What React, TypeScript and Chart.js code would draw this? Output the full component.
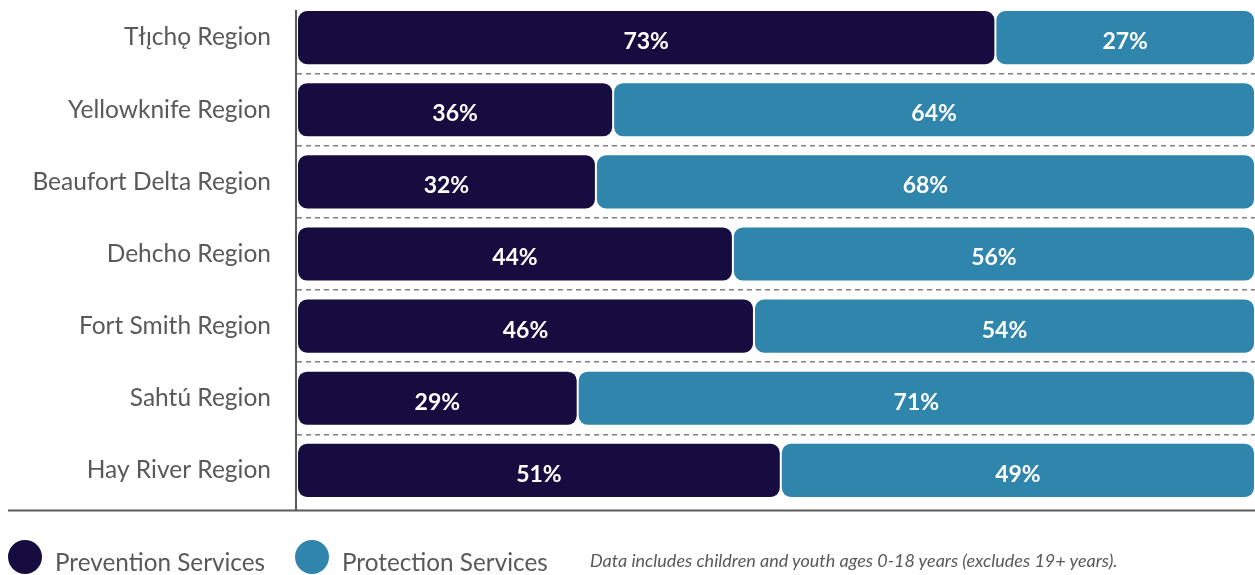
import React, { useEffect, useRef } from "react";
import { Chart, registerables } from "chart.js";

Chart.register(...registerables);

const regions = [
  "Tłı̨chǫ Region",
  "Yellowknife Region",
  "Beaufort Delta Region",
  "Dehcho Region",
  "Fort Smith Region",
  "Sahtú Region",
  "Hay River Region",
];
// bar lengths as drawn in the reference (percent of row)
const preventionShare = [72.9, 33.0, 31.2, 45.5, 47.7, 29.3, 50.5];
const protectionShare = [27.1, 67.0, 68.8, 54.5, 52.3, 70.7, 49.5];
// labels printed on the bars
const preventionLabels = ["73%", "36%", "32%", "44%", "46%", "29%", "51%"];
const protectionLabels = ["27%", "64%", "68%", "56%", "54%", "71%", "49%"];
const seriesNames = ["Prevention Services", "Protection Services"];
const seriesColors = ["#170C40", "#3085AC"];
const footnote = "Data includes children and youth ages 0-18 years (excludes 19+ years).";

const FONT = "Lato, 'Noto Sans', sans-serif";
const TEXT_GREY = "#595959";
const RADIUS = { topLeft: 10, topRight: 10, bottomLeft: 10, bottomRight: 10 };

const valueLabelPlugin = {
  id: "valueLabels",
  afterDatasetsDraw(chart: any) {
    const ctx = chart.ctx;
    ctx.save();
    ctx.fillStyle = "#ffffff";
    ctx.font = `bold 23px ${FONT}`;
    ctx.textAlign = "center";
    ctx.textBaseline = "middle";
    chart.data.datasets.forEach((ds: any, di: number) => {
      const meta = chart.getDatasetMeta(di);
      meta.data.forEach((bar: any, i: number) => {
        const text = ds.valueLabels[i];
        const cx = (bar.x + bar.base) / 2;
        ctx.fillText(text, cx, bar.y + 4);
      });
    });
    ctx.restore();
  },
};

const axisLinePlugin = {
  id: "axisLines",
  afterDraw(chart: any) {
    const { ctx, chartArea } = chart;
    ctx.save();
    ctx.strokeStyle = "#5a5a5a";
    ctx.lineWidth = 2;
    ctx.beginPath();
    ctx.moveTo(chartArea.left - 1, chartArea.top + 8.5);
    ctx.lineTo(chartArea.left - 1, chartArea.bottom + 4);
    ctx.moveTo(8, chartArea.bottom + 4);
    ctx.lineTo(chartArea.right, chartArea.bottom + 4);
    ctx.stroke();
    ctx.restore();
  },
};

export default function App() {
  const canvasRef = useRef<HTMLCanvasElement | null>(null);

  useEffect(() => {
    if (!canvasRef.current) return;
    const chart = new Chart(canvasRef.current, {
      type: "bar",
      data: {
        labels: regions,
        datasets: [
          {
            label: seriesNames[0],
            data: preventionShare,
            backgroundColor: seriesColors[0],
            borderColor: "#ffffff",
            borderWidth: 1,
            borderRadius: RADIUS,
            borderSkipped: false,
            barPercentage: 0.764,
            categoryPercentage: 1,
            valueLabels: preventionLabels,
          } as any,
          {
            label: seriesNames[1],
            data: protectionShare,
            backgroundColor: seriesColors[1],
            borderColor: "#ffffff",
            borderWidth: 1,
            borderRadius: RADIUS,
            borderSkipped: false,
            barPercentage: 0.764,
            categoryPercentage: 1,
            valueLabels: protectionLabels,
          } as any,
        ],
      },
      options: {
        indexAxis: "y",
        responsive: false,
        animation: false,
        layout: { padding: { top: 1.5, bottom: 68.5, left: 0, right: 0 } },
        plugins: {
          legend: { display: false },
          tooltip: { enabled: false },
        },
        scales: {
          x: { stacked: true, min: 0, max: 100, display: false },
          y: {
            stacked: true,
            grid: {
              offset: true,
              drawTicks: false,
              lineWidth: 1.6,
              color: (c: any) =>
                typeof c.index === "number" && c.index > 0 ? "#808080" : "rgba(0,0,0,0)",
            },
            border: { display: false, dash: [5, 4] },
            ticks: {
              color: TEXT_GREY,
              font: { family: FONT, size: 24.5 },
              padding: 26,
            },
            afterFit: (s: any) => {
              s.width = 297;
              s.paddingTop = 0;
              s.paddingBottom = 0;
            },
          },
        },
      } as any,
      plugins: [valueLabelPlugin, axisLinePlugin],
    });
    return () => chart.destroy();
  }, []);

  const legendLefts = [8, 295];
  return (
    <div style={{ position: "fixed", left: 0, top: 0, width: 1255, height: 575, background: "#fff", overflow: "hidden" }}>
      <canvas ref={canvasRef} width={1255} height={575} style={{ display: "block" }} />
      {seriesNames.map((name, i) => (
        <div
          key={name}
          style={{
            position: "absolute",
            left: legendLefts[i],
            top: 540,
            height: 34,
            display: "flex",
            alignItems: "center",
            fontFamily: FONT,
            fontSize: 24.3,
            color: TEXT_GREY,
            whiteSpace: "nowrap",
          }}
        >
          <span
            style={{
              display: "inline-block",
              width: 34,
              height: 34,
              borderRadius: "50%",
              background: seriesColors[i],
              marginRight: 13,
            }}
          />
          <span style={{ position: "relative", top: 4 }}>{name}</span>
        </div>
      ))}
      <div
        style={{
          position: "absolute",
          left: 590,
          top: 549,
          fontFamily: FONT,
          fontStyle: "italic",
          fontSize: 18,
          color: TEXT_GREY,
          whiteSpace: "nowrap",
        }}
      >
        {footnote}
      </div>
    </div>
  );
}
